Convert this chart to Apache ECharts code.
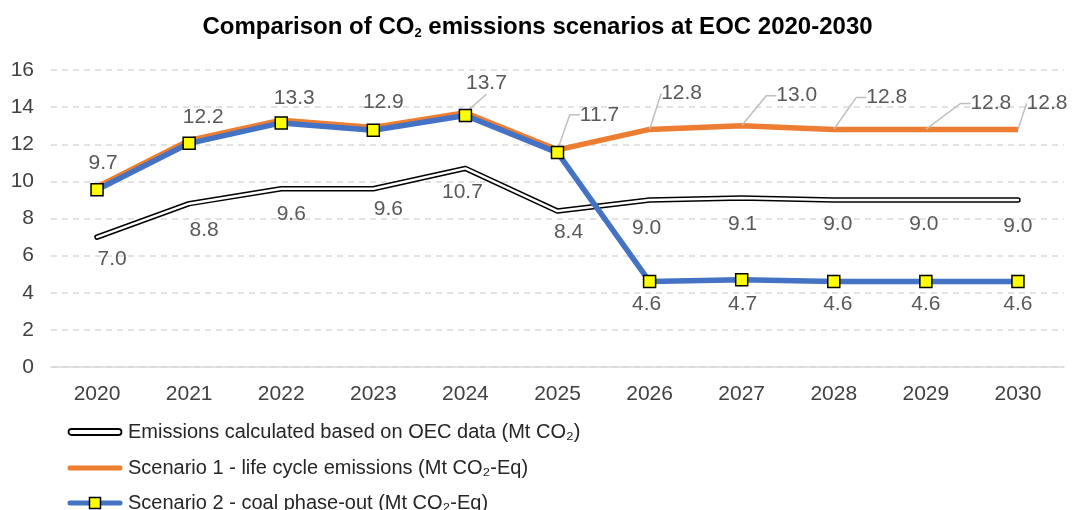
<!DOCTYPE html>
<html>
<head>
<meta charset="utf-8">
<script src="https://cdn.jsdelivr.net/npm/echarts@6/dist/echarts.min.js"></script>
<style>html,body{margin:0;padding:0;background:#fff}#c{width:1075px;height:510px}</style>
</head>
<body>
<div id="c"></div>
<script>
// ---- data ----
const years = ['2020','2021','2022','2023','2024','2025','2026','2027','2028','2029','2030'];
const oecValues = [7.0, 8.8, 9.6, 9.6, 10.7, 8.4, 9.0, 9.1, 9.0, 9.0, 9.0];
const scenario1Values = [9.7, 12.2, 13.3, 12.9, 13.7, 11.7, 12.8, 13.0, 12.8, 12.8, 12.8];
const scenario2Values = [9.55, 12.05, 13.15, 12.75, 13.55, 11.55, 4.6, 4.7, 4.6, 4.6, 4.6];
const scenario1Labels = ['9.7','12.2','13.3','12.9','13.7','11.7','12.8','13.0','12.8','12.8','12.8'];
const oecLabels = ['7.0','8.8','9.6','9.6','10.7','8.4','9.0','9.1','9.0','9.0','9.0'];
const scenario2Labels = ['','','','','','','4.6','4.7','4.6','4.6','4.6'];
const yTicks = {min: 0, max: 16, interval: 2};

const nameOEC = 'Emissions calculated based on OEC data (Mt CO\u2082)';
const nameS1 = 'Scenario 1 - life cycle emissions (Mt CO\u2082-Eq)';
const nameS2 = 'Scenario 2 - coal phase-out (Mt CO\u2082-Eq)';

// ---- label offsets / leader styling ----
const s1Off = [[6,-24],[14,-23],[13,-22],[10,-25],[21,-29],[42,-35],[32,-36],[55,-30],[53,-32],[65,-26],[29,-26]];
const s1Leader = [0,0,0,0,1,1,1,1,1,1,1];
const s1Len2 = [0,0,0,0,0,10,0,10,10,10,0];
const oecOff = [[15,22],[15,27],[10,25],[15,20],[-3,24],[11,21],[-3,28],[1,26],[4,24],[-2,24],[0,26]];
const s2Off = [[0,0],[0,0],[0,0],[0,0],[0,0],[0,0],[-3,23],[1,24],[4,23],[0,23],[0,23]];

const svg = s => 'image://data:image/svg+xml;charset=utf-8,' + encodeURIComponent(s);
const iconOEC = svg('<svg xmlns="http://www.w3.org/2000/svg" width="56" height="16"><rect x="1.5" y="5" width="53" height="6" rx="3" fill="#fff" stroke="#000" stroke-width="1.8"/></svg>');
const iconS1 = svg('<svg xmlns="http://www.w3.org/2000/svg" width="56" height="16"><rect x="0.5" y="5.5" width="55" height="5" rx="2.5" fill="#ED7D31"/></svg>');
const iconS2 = svg('<svg xmlns="http://www.w3.org/2000/svg" width="56" height="16"><rect x="0.5" y="5.5" width="55" height="5" rx="2.5" fill="#4472C4"/><rect x="22.5" y="2.5" width="11" height="11" fill="#FFFF00" stroke="#000" stroke-width="1.5"/></svg>');

const FF = 'Liberation Sans, Arial, sans-serif';
const labelFont = {fontFamily: FF, fontSize: 21, color: '#595959'};
const legendText = {fontFamily: FF, fontSize: 20, color: '#262626', lineHeight: 20};
const mkLegend = (name, icon, top) => ({
  orient: 'vertical', left: 62, top: top, itemWidth: 56, itemHeight: 16,
  selectedMode: false, textStyle: legendText, data: [{name: name, icon: icon}]
});

const chart = echarts.init(document.getElementById('c'), null, {renderer: 'canvas'});
chart.setOption({
  backgroundColor: '#fff',
  animation: false,
  title: {
    text: '{b|Comparison of CO}{s|2}{b| emissions scenarios at EOC 2020-2030}',
    left: 'center', top: 10,
    textStyle: {
      rich: {
        b: {fontFamily: FF, fontWeight: 'bold', fontSize: 24, color: '#000'},
        s: {fontFamily: FF, fontWeight: 'bold', fontSize: 13, color: '#000', padding: [12,0,0,0]}
      }
    }
  },
  legend: [
    mkLegend(nameOEC, iconOEC, 417),
    mkLegend(nameS1, iconS1, 453),
    mkLegend(nameS2, iconS2, 488)
  ],
  grid: {left: 51, right: 11, top: 70, bottom: 143, containLabel: false},
  xAxis: {
    type: 'category', data: years, boundaryGap: true,
    axisLine: {lineStyle: {color: '#d9d9d9', width: 1.5}},
    axisTick: {show: false},
    axisLabel: {fontFamily: FF, fontSize: 21, color: '#404040', margin: 17}
  },
  yAxis: {
    type: 'value', min: yTicks.min, max: yTicks.max, interval: yTicks.interval,
    axisLine: {show: false}, axisTick: {show: false},
    splitLine: {lineStyle: {color: '#d9d9d9', type: [6,5], width: 1.5}},
    axisLabel: {fontFamily: FF, fontSize: 21, color: '#404040', margin: 17}
  },
  series: [
    {
      name: nameOEC, type: 'line', data: oecValues, z: 2,
      symbol: 'circle', symbolSize: 1, itemStyle: {color: '#000'},
      lineStyle: {color: '#000', width: 5.5, cap: 'round', join: 'round'},
      label: Object.assign({show: true, position: 'inside', formatter: p => oecLabels[p.dataIndex]}, labelFont),
      labelLayout: p => ({dx: oecOff[p.dataIndex][0], dy: oecOff[p.dataIndex][1]})
    },
    {
      name: '_oecInner', type: 'line', data: oecValues, z: 3, silent: true,
      symbol: 'none', lineStyle: {color: '#fff', width: 2.5, cap: 'round', join: 'round'}
    },
    {
      name: nameS1, type: 'line', z: 4,
      data: scenario1Values.map((v, i) => ({value: v, labelLine: {show: !!s1Leader[i], length2: s1Len2[i]}})),
      symbol: 'circle', symbolSize: 1, itemStyle: {color: '#ED7D31'},
      lineStyle: {color: '#ED7D31', width: 5.5, join: 'round'},
      label: Object.assign({show: true, position: 'inside', formatter: p => scenario1Labels[p.dataIndex]}, labelFont),
      labelLine: {show: false, lineStyle: {color: '#bfbfbf', width: 1.5}},
      labelLayout: p => ({dx: s1Off[p.dataIndex][0], dy: s1Off[p.dataIndex][1]})
    },
    {
      name: nameS2, type: 'line', data: scenario2Values, z: 5,
      symbol: 'rect', symbolSize: 12, showAllSymbol: true,
      itemStyle: {color: '#FFFF00', borderColor: '#000', borderWidth: 1.5},
      lineStyle: {color: '#4472C4', width: 5.5, join: 'round'},
      label: Object.assign({show: true, position: 'inside', formatter: p => scenario2Labels[p.dataIndex]}, labelFont),
      labelLayout: p => ({dx: s2Off[p.dataIndex][0], dy: s2Off[p.dataIndex][1]})
    }
  ]
});
</script>
</body>
</html>
